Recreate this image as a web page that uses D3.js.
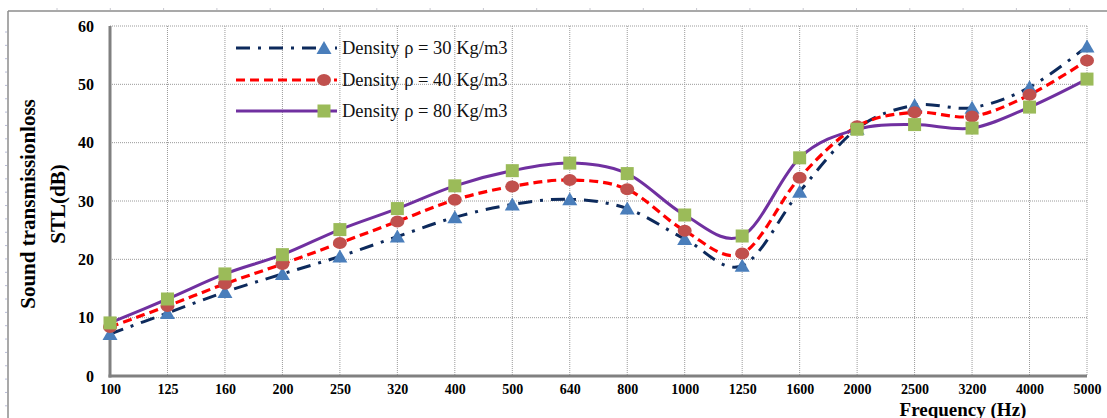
<!DOCTYPE html>
<html><head><meta charset="utf-8">
<script src="https://cdn.jsdelivr.net/npm/d3@7/dist/d3.min.js"></script>
<style>body{margin:0;background:#fff}svg{display:block}</style>
</head><body>
<svg id="c" width="1107" height="418"></svg>
<script>
const categories = ["100","125","160","200","250","320","400","500","640","800","1000","1250","1600","2000","2500","3200","4000","5000"];
const density30 = [7.2,10.8,14.4,17.5,20.5,23.9,27.2,29.4,30.3,28.7,23.5,18.9,31.6,42.4,46.4,46.0,49.5,56.5];
const density40 = [8.4,12.0,15.8,19.2,22.8,26.5,30.2,32.5,33.6,32.0,24.9,21.0,34.0,42.8,45.2,44.5,48.2,54.1];
const density80 = [9.1,13.2,17.5,20.8,25.1,28.7,32.6,35.2,36.5,34.7,27.6,24.0,37.4,42.3,43.1,42.5,46.1,50.9];
const yTicks = [0,10,20,30,40,50,60];
const seriesNames = ["Density \u03c1 = 30 Kg/m3","Density \u03c1 = 40 Kg/m3","Density \u03c1 = 80 Kg/m3"];

const svg = d3.select("#c");
const L = 110, R = 1087, T = 26, B = 376;
const x = d3.scalePoint().domain(categories).range([L, R]);
const y = d3.scaleLinear().domain([0, 60]).range([B, T]);

// outer frame with ruler-like ticks
svg.append("line").attr("x1",8).attr("x2",1107).attr("y1",11).attr("y2",11).attr("stroke","#8c8c8c").attr("stroke-width",1.5);
svg.append("line").attr("x1",8).attr("x2",8).attr("y1",11).attr("y2",418).attr("stroke","#8c8c8c").attr("stroke-width",1.5);
for (let tx = 57; tx < 1107; tx += 53.3) {
  svg.append("line").attr("x1",tx).attr("x2",tx).attr("y1",8).attr("y2",10).attr("stroke","#c8c8d0").attr("stroke-width",1);
}
for (let ty = 32; ty < 418; ty += 13.35) {
  svg.append("line").attr("x1",5).attr("x2",7).attr("y1",ty).attr("y2",ty).attr("stroke","#b8bcd8").attr("stroke-width",1);
}

// grid
const grid = svg.append("g");
grid.selectAll(".hg").data(yTicks.filter(d=>d>0)).join("line")
  .attr("x1",L).attr("x2",R).attr("y1",d=>y(d)).attr("y2",d=>y(d))
  .attr("stroke","#9a9a9a").attr("stroke-width",1).attr("stroke-dasharray","1,1");
grid.selectAll(".vg").data(categories.slice(1)).join("line")
  .attr("x1",d=>x(d)).attr("x2",d=>x(d)).attr("y1",T).attr("y2",B)
  .attr("stroke","#9a9a9a").attr("stroke-width",1).attr("stroke-dasharray","1,1");

// axes
const yAxis = svg.append("g").attr("transform",`translate(${L},0)`)
  .call(d3.axisLeft(y).tickValues(yTicks).tickSize(0).tickPadding(16));
yAxis.select(".domain").remove();
yAxis.selectAll("text").attr("font-family","Liberation Serif, serif").attr("font-weight","bold").attr("font-size","16px").attr("fill","#000");
const xAxis = svg.append("g").attr("transform",`translate(0,${B})`)
  .call(d3.axisBottom(x).tickSize(0).tickPadding(8));
xAxis.select(".domain").remove();
xAxis.selectAll("text").attr("font-family","Liberation Serif, serif").attr("font-weight","bold").attr("font-size","14px").attr("fill","#000");
svg.append("line").attr("x1",L).attr("x2",L).attr("y1",T).attr("y2",B+1.5).attr("stroke","#808080").attr("stroke-width",3);
svg.append("line").attr("x1",L-1.5).attr("x2",R).attr("y1",B).attr("y2",B).attr("stroke","#808080").attr("stroke-width",3);

// axis titles
svg.append("text").attr("transform","translate(35,204) rotate(-90)").attr("text-anchor","middle")
  .attr("font-family","Liberation Serif, serif").attr("font-weight","bold").attr("font-size","21px").text("Sound transmissionloss");
svg.append("text").attr("transform","translate(65,204) rotate(-90)").attr("text-anchor","middle")
  .attr("font-family","Liberation Serif, serif").attr("font-weight","bold").attr("font-size","21px").text("STL(dB)");
svg.append("text").attr("x",963).attr("y",416).attr("text-anchor","middle")
  .attr("font-family","Liberation Serif, serif").attr("font-weight","bold").attr("font-size","19px").text("Frequency (Hz)");

// series
const styles = [
  {vals: density30, color:"#0d2a5c", width:3, dash:"14,8,3,8", marker:"tri", mfill:"#4a7ebb"},
  {vals: density40, color:"#ff0000", width:3.2, dash:"9,5", marker:"circ", mfill:"#c0504d"},
  {vals: density80, color:"#7030a0", width:3, dash:null, marker:"sq", mfill:"#9bbb59"}
];
const line = d3.line().x((d,i)=>x(categories[i])).y(d=>y(d)).curve(d3.curveCatmullRom.alpha(0));

function drawMarker(g, type, fill, cx, cy) {
  if (type === "tri") {
    g.append("path").attr("d",`M${cx},${cy-7}L${cx+7.5},${cy+6}L${cx-7.5},${cy+6}Z`).attr("fill",fill);
  } else if (type === "circ") {
    g.append("ellipse").attr("cx",cx).attr("cy",cy).attr("rx",7).attr("ry",6).attr("fill",fill);
  } else {
    g.append("rect").attr("x",cx-6.5).attr("y",cy-6.5).attr("width",13).attr("height",13).attr("fill",fill);
  }
}

styles.forEach(s => {
  const p = svg.append("path").datum(s.vals).attr("d",line).attr("fill","none")
    .attr("stroke",s.color).attr("stroke-width",s.width);
  if (s.dash) p.attr("stroke-dasharray",s.dash);
});
styles.forEach(s => {
  const g = svg.append("g");
  s.vals.forEach((v,i)=>drawMarker(g, s.marker, s.mfill, x(categories[i]), y(v)));
});

// legend
const legY = [48, 80, 111];
styles.forEach((s,i) => {
  const g = svg.append("g");
  const ln = g.append("line").attr("x1",236).attr("x2",337).attr("y1",legY[i]).attr("y2",legY[i])
    .attr("stroke",s.color).attr("stroke-width",s.width);
  if (s.dash) ln.attr("stroke-dasharray",s.dash);
  drawMarker(g, s.marker, s.mfill, 324, legY[i]);
  g.append("text").attr("x",342).attr("y",legY[i]+6).attr("font-family","Liberation Serif, serif")
    .attr("font-size","18.5px").attr("fill","#111").text(seriesNames[i]);
});
</script>
</body></html>
